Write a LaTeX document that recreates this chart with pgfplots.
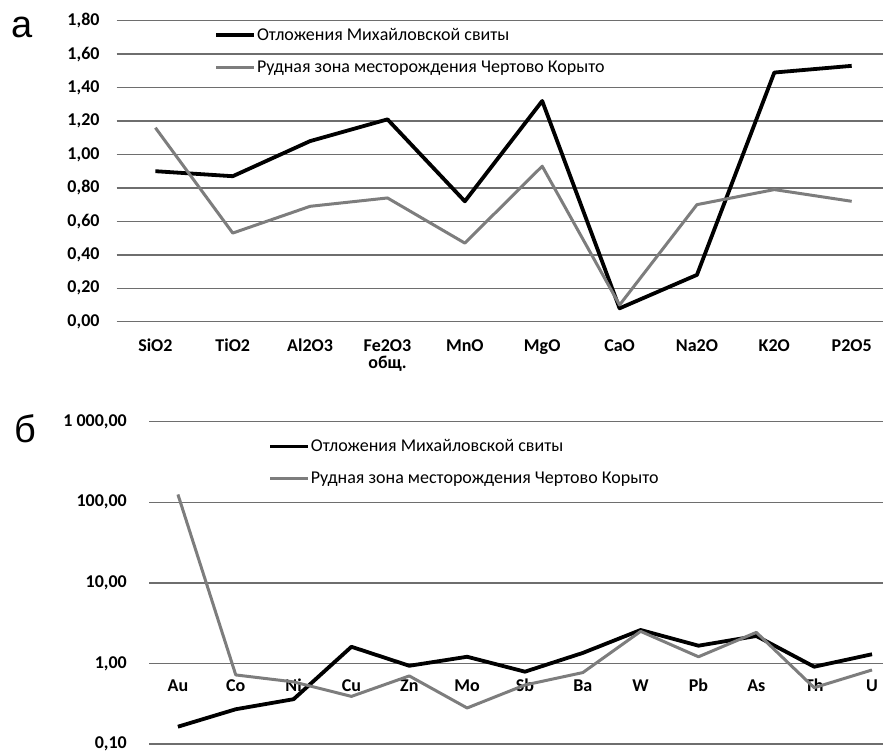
\documentclass[border=0pt]{standalone}
\usepackage{pgfplots}
\pgfplotsset{compat=1.18}
\usepackage{fontspec}
\setmainfont{Carlito}
\newfontfamily\letterfont{Liberation Sans}

\definecolor{serA}{RGB}{0,0,0}
\definecolor{serB}{RGB}{125,125,125}
\definecolor{gridc}{RGB}{110,110,110}

\pgfplotsset{
  panel/.style={
    scale only axis,
    clip=false,
    axis line style={draw=none},
    tick style={draw=none},
    ymajorgrids,
    grid style={gridc, line width=1.5pt},
    tick label style={font=\fontsize{18}{24}\selectfont\bfseries},
    yticklabel style={anchor=east, inner sep=0pt, xshift=-17pt},
    xticklabel style={anchor=base, inner sep=0pt},
    legend cell align=left,
    legend image code/.code={\draw[##1] (0pt,0pt) -- (38pt,0pt);},
  },
  serieA/.style={serA, line width=3.8pt, line join=round},
  serieB/.style={serB, line width=3pt, line join=round},
}

\begin{document}
\begin{tikzpicture}
\useasboundingbox (0pt,0pt) rectangle (883pt,-751pt);

% panel a
\begin{axis}[panel,
  at={(116.7pt,-321.7pt)}, anchor=south west,
  width=766.3pt, height=301pt,
  xmin=-0.5, xmax=9.405, ymin=0, ymax=1.8,
  xtick={0,...,9},
  xticklabels={SiO2,TiO2,Al2O3,Fe2O3,MnO,MgO,CaO,Na2O,K2O,P2O5},
  xticklabel style={yshift=-30pt},
  ytick={0,0.2,0.4,0.6,0.8,1,1.2,1.4,1.6,1.8},
  yticklabels={{0,00},{0,20},{0,40},{0,60},{0,80},{1,00},{1,20},{1,40},{1,60},{1,80}},
  legend style={draw=none, fill=none, inner sep=0pt, at={(0.127,0.979)}, anchor=north west,
    font=\fontsize{18}{22}\selectfont, row sep=17pt, nodes={inner sep=1pt}},
]
\addplot[serieA] coordinates {
  (0,0.90) (1,0.87) (2,1.08) (3,1.21) (4,0.72)
  (5,1.32) (6,0.08) (7,0.28) (8,1.49) (9,1.53)
};
\addplot[serieB] coordinates {
  (0,1.16) (1,0.53) (2,0.69) (3,0.74) (4,0.47)
  (5,0.93) (6,0.10) (7,0.70) (8,0.79) (9,0.72)
};
\legend{Отложения Михайловской свиты, Рудная зона месторождения Чертово Корыто}
\node[anchor=base, inner sep=0pt, yshift=-46.3pt, font=\fontsize{18}{24}\selectfont\bfseries]
  at (axis cs:3,0) {общ.};
\end{axis}

% panel b
\begin{axis}[panel,
  at={(149pt,-744pt)}, anchor=south west,
  width=734pt, height=322.3pt,
  ymode=log,
  xmin=-0.5, xmax=12.19, ymin=0.1, ymax=1000,
  xtick={0,...,12},
  xticklabels={Au,Co,Ni,Cu,Zn,Mo,Sb,Ba,W,Pb,As,Th,U},
  xticklabel style={yshift=53pt},
  ytick={0.1,1,10,100,1000},
  yticklabels={{0,10},{1,00},{10,00},{100,00},{1\ 000,00}},
  yticklabel style={xshift=-5pt},
  legend style={draw=none, fill=none, inner sep=0pt, at={(0.162,0.948)}, anchor=north west,
    font=\fontsize{18}{22}\selectfont, row sep=17pt, nodes={inner sep=1pt}},
]
\addplot[serieA] coordinates {
  (0,0.164) (1,0.27) (2,0.36) (3,1.61) (4,0.935) (5,1.21) (6,0.79)
  (7,1.35) (8,2.6) (9,1.66) (10,2.19) (11,0.91) (12,1.30)
};
\addplot[serieB] coordinates {
  (0,125) (1,0.72) (2,0.59) (3,0.39) (4,0.70) (5,0.28) (6,0.54)
  (7,0.77) (8,2.5) (9,1.21) (10,2.43) (11,0.50) (12,0.83)
};
\legend{Отложения Михайловской свиты, Рудная зона месторождения Чертово Корыто}
\end{axis}

\node[anchor=base west, inner sep=0pt] at (11pt,-38pt) {\letterfont\fontsize{38}{40}\selectfont а};
\node[anchor=base west, inner sep=0pt] at (14pt,-442pt) {\letterfont\fontsize{38}{40}\selectfont б};
\end{tikzpicture}
\end{document}
